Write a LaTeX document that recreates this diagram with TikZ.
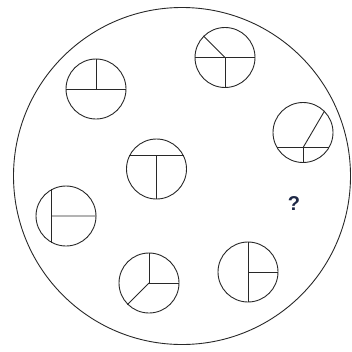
\documentclass[tikz,border=0pt]{standalone}
\usepackage{fontspec}
\setmainfont{Liberation Sans}
\usetikzlibrary{calc}
\definecolor{ink}{RGB}{40,40,40}
\definecolor{qcol}{RGB}{30,40,70}
\tikzset{
  fig/.style={circle,draw=ink,line width=0.9pt,minimum size=60pt,inner sep=0pt},
  seg/.style={draw=ink,line width=0.9pt},
  big/.style={circle,draw=ink,line width=0.9pt,minimum size=337pt,inner sep=0pt}
}
\begin{document}
\begin{tikzpicture}[x=1pt,y=-1pt]
\useasboundingbox (0,0) rectangle (352,351);
\node[big] (outer) at (182,176) {};
% circle 1
\node[fig] (c1) at (96,89) {};
\draw[seg] (c1.west) -- (c1.east);
\draw[seg] (c1.north) -- (c1.center);
% circle 2
\node[fig] (c2) at (225,57.5) {};
\draw[seg] (c2.west) -- (c2.east);
\draw[seg] (c2.center) -- (c2.south);
\draw[seg] (c2.center) -- (c2.135);
% circle 3
\node[fig] (c3) at (303,132.5) {};
\draw[seg] (c3.210) -- (c3.-30);
\coordinate (m3) at ($(c3.210)!0.5!(c3.-30)$);
\draw[seg] (m3) -- (c3.south);
\draw[seg] (m3) -- (c3.45);
% circle 4
\node[fig] (c4) at (156.5,169) {};
\draw[seg] (c4.153) -- (c4.27);
\coordinate (m4) at ($(c4.153)!0.5!(c4.27)$);
\draw[seg] (m4) -- (c4.south);
% circle 5
\node[fig] (c5) at (66,216) {};
\draw[seg] (c5.118) -- (c5.242);
\coordinate (m5) at ($(c5.118)!0.5!(c5.242)$);
\draw[seg] (m5) -- (c5.east);
% circle 6
\node[fig] (c6) at (149,283) {};
\draw[seg] (c6.north) -- (c6.center);
\draw[seg] (c6.center) -- (c6.east);
\draw[seg] (c6.center) -- (c6.225);
% circle 7
\node[fig] (c7) at (248,272) {};
\draw[seg] (c7.north) -- (c7.south);
\draw[seg] (c7.center) -- (c7.east);
% question mark
\node[text=qcol,font=\fontsize{20}{22}\selectfont\bfseries,inner sep=0pt] (q) at (294,204) {?};
\end{tikzpicture}
\end{document}
